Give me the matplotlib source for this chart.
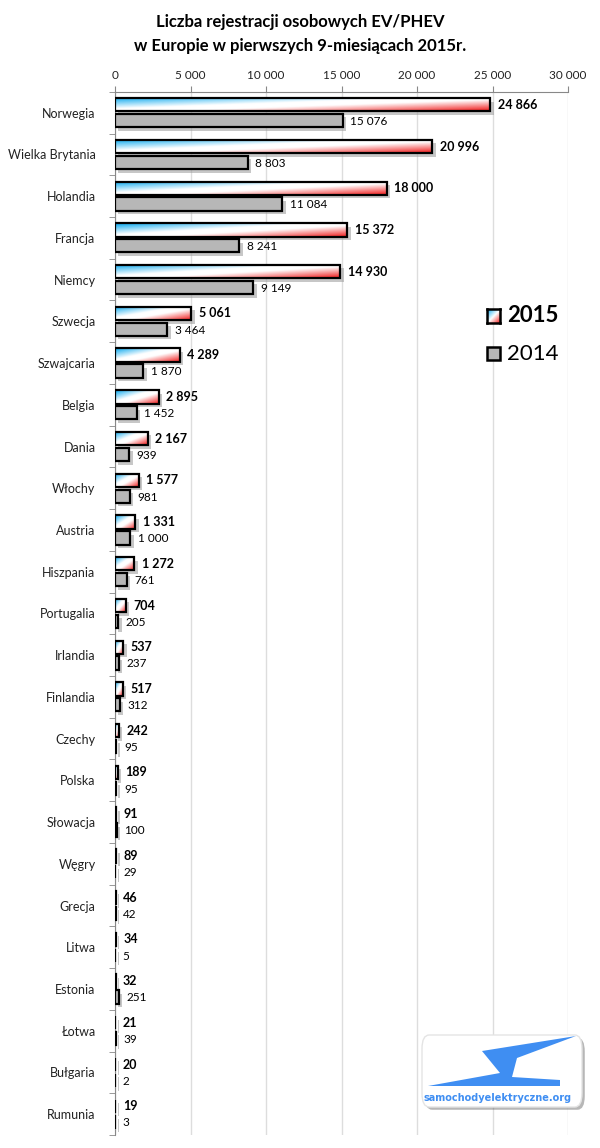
import numpy as np
import matplotlib
matplotlib.use("Agg")
import matplotlib.pyplot as plt
from matplotlib.colors import LinearSegmentedColormap
from matplotlib.patches import Rectangle, FancyBboxPatch, Polygon
import matplotlib.patheffects as pe

countries = ["Norwegia", "Wielka Brytania", "Holandia", "Francja", "Niemcy", "Szwecja",
             "Szwajcaria", "Belgia", "Dania", "Włochy", "Austria", "Hiszpania", "Portugalia",
             "Irlandia", "Finlandia", "Czechy", "Polska", "Słowacja", "Węgry", "Grecja",
             "Litwa", "Estonia", "Łotwa", "Bułgaria", "Rumunia"]
v2015 = [24866, 20996, 18000, 15372, 14930, 5061, 4289, 2895, 2167, 1577, 1331, 1272, 704,
         537, 517, 242, 189, 91, 89, 46, 34, 32, 21, 20, 19]
v2014 = [15076, 8803, 11084, 8241, 9149, 3464, 1870, 1452, 939, 981, 1000, 761, 205,
         237, 312, 95, 95, 100, 29, 42, 5, 251, 39, 2, 3]
xticks = [0, 5000, 10000, 15000, 20000, 25000, 30000]

plt.rcParams["font.family"] = ["Lato", "DejaVu Sans"]

cmap = LinearSegmentedColormap.from_list(
    "ev", [(0.0, "#0aa8ee"), (0.42, "#ffffff"), (0.58, "#ffffff"), (1.0, "#f01c1c")])
# legend swatch is tiny, so no white plateau there
cmap_leg = LinearSegmentedColormap.from_list("ev_leg", ["#0aa8ee", "#ffffff", "#f01c1c"])
grad = np.add.outer(np.linspace(0, 1, 20), np.linspace(0, 1, 200)) / 2.0


def fmt(v):
    return f"{v:,}".replace(",", " ")


fig = plt.figure(figsize=(6, 11.48), dpi=100)
ax = fig.add_axes([0.1917, 0.0113, 0.755, 0.9087])

n = len(countries)
y = np.arange(n)
h = 0.32
shadow = [pe.SimplePatchShadow(offset=(2.5, -2.5), shadow_rgbFace="#9a9a9a", alpha=0.55),
          pe.Normal()]

# shadows first, then gradient fill, then outlines
ax.barh(y - 0.19, v2015, height=h, color="white", edgecolor="none", zorder=3,
        path_effects=shadow)
bars15 = ax.barh(y - 0.19, v2015, height=h, color="none", edgecolor="black", linewidth=1.6,
                 zorder=4)
bars14 = ax.barh(y + 0.19, v2014, height=h, color="#b7b7b7", edgecolor="black", linewidth=1.6,
                 zorder=4, path_effects=shadow)

for b in bars15:
    x0, y0, w, hh = b.get_x(), b.get_y(), b.get_width(), b.get_height()
    im = ax.imshow(grad, cmap=cmap, extent=(x0, x0 + w, y0 + hh, y0), aspect="auto",
                   zorder=3.5, interpolation="bilinear", vmin=0, vmax=1)
    im.set_clip_path(b)

for i in range(n):
    ax.text(v2015[i] + 500, y[i] - 0.19, fmt(v2015[i]), va="center", ha="left",
            fontsize=9, fontweight="bold", color="black", zorder=6)
    ax.text(v2014[i] + 500, y[i] + 0.21, fmt(v2014[i]), va="center", ha="left",
            fontsize=8.5, color="black", zorder=6)

ax.set_xlim(0, 30000)
ax.set_ylim(n - 0.5, -0.5)
ax.xaxis.tick_top()
ax.set_xticks(xticks)
ax.set_xticklabels([fmt(t) for t in xticks], fontsize=8.5, color="#222222")
ax.tick_params(axis="x", length=4, color="#888888", pad=4)
ax.grid(axis="x", color="#dddddd", linewidth=1, zorder=0)
ax.set_axisbelow(True)

ax.set_yticks(y)
ax.set_yticklabels(countries, fontsize=9, color="#222222")
ax.set_yticks(np.arange(n + 1) - 0.5, minor=True)
ax.tick_params(axis="y", which="major", length=0, pad=14)
ax.tick_params(axis="y", which="minor", length=4, color="#888888")

for s in ["right", "bottom"]:
    ax.spines[s].set_visible(False)
ax.spines["top"].set_color("#888888")
ax.spines["left"].set_color("#888888")

fig.text(0.5, 0.9805, "Liczba rejestracji osobowych EV/PHEV", ha="center", va="center",
         fontsize=12, fontweight="bold")
fig.text(0.5, 0.9600, "w Europie w pierwszych 9-miesiącach 2015r.", ha="center", va="center",
         fontsize=12, fontweight="bold")

# legend
lax = fig.add_axes([0.811, 0.719, 0.022, 0.0115])
lax.imshow(np.add.outer(np.linspace(0, 1, 20), np.linspace(0, 1, 20)) / 2.0, cmap=cmap_leg,
           extent=(0, 1, 1, 0), aspect="auto", vmin=0, vmax=1, interpolation="bilinear")
lax.set_xticks([])
lax.set_yticks([])
for s in lax.spines.values():
    s.set_linewidth(1.8)
fig.patches.append(Rectangle((0.811, 0.686), 0.022, 0.0115, transform=fig.transFigure,
                             facecolor="#b7b7b7", edgecolor="black", linewidth=1.8))
fig.text(0.845, 0.7248, "2015", fontsize=16, fontweight="bold", va="center")
fig.text(0.845, 0.6918, "2014", fontsize=16, va="center")

# logo
W, H = 600.0, 1148.0
fig.patches.append(FancyBboxPatch((422 / W, 1 - 1107 / H), 160 / W, 72 / H,
                                  transform=fig.transFigure,
                                  boxstyle="round,pad=0,rounding_size=0.012",
                                  facecolor="white", edgecolor="#e4e4e4", linewidth=1,
                                  path_effects=[pe.SimplePatchShadow(offset=(2, -2), alpha=0.4),
                                                pe.Normal()], zorder=10))
bolt = [(428, 1086), (500, 1073), (482, 1051), (576, 1036), (517, 1058), (512, 1077),
        (560, 1080), (560, 1086)]
fig.patches.append(Polygon([(px / W, 1 - py / H) for px, py in bolt],
                           transform=fig.transFigure, facecolor="#3f8ef2", edgecolor="none",
                           zorder=11))
fig.text(498 / W, 1 - 1098 / H, "samochodyelektryczne.org", ha="center", va="center",
         fontsize=7, fontweight="bold", color="#3f8ef2", family=["DejaVu Sans"], zorder=12)

fig.savefig("out.png", dpi=100)
